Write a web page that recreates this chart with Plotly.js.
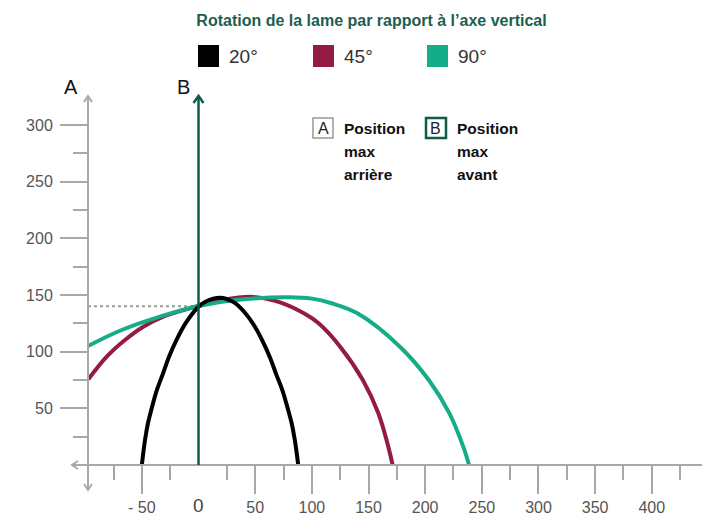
<!DOCTYPE html>
<html><head><meta charset="utf-8">
<script src="https://cdn.plot.ly/plotly-3.0.1.min.js"></script>
<style>html,body{margin:0;padding:0;background:#fff}#chart{width:702px;height:517px}</style>
</head><body><div id="chart"></div>
<script>
// ---- data ----
const seriesNames = ['20°', '45°', '90°'];
const seriesColors = ['#000000', '#941b42', '#14ad88'];
const x20 = [-50, -47.2, -44.6, -41.3, -36.7, -31.6, -26, -19.6, -11.5, 0, 6.1, 19, 30.4, 36, 47.9, 56.2, 62.8, 68.6, 73.9, 78.7, 82.2, 85, 88];
const y20 = [0, 22, 36.8, 50, 66.2, 80, 95.6, 110, 125, 139.7, 144, 147.5, 144, 139.7, 125, 110, 95.6, 80, 66.2, 50, 36.8, 22, 0];
const x45 = [-97.2, -81, -64.9, -48.7, -31, 0, 22, 48, 72, 93, 106, 125, 145, 158.7, 167.5, 171.3];
const y45 = [75.6, 95.6, 110.3, 122, 130.9, 140.3, 145.8, 148.3, 143.5, 133.8, 125, 104.4, 75, 45.6, 16, 0];
const x90 = [-97.5, -67.8, -34, 0, 40, 80, 100, 117.5, 140.2, 177.7, 203.2, 221.4, 233.7, 238.7];
const y90 = [105, 119.1, 130.9, 140.3, 146.2, 148, 146.8, 142.7, 133.8, 104.4, 75, 45.6, 16, 0];
const yTickVals = [50, 100, 150, 200, 250, 300];
const yMinorVals = [25, 75, 125, 175, 225, 275];
const xTickVals = [-50, 50, 100, 150, 200, 250, 300, 350, 400];
const xTickText = ['- 50', '50', '100', '150', '200', '250', '300', '350', '400'];
const xMinorVals = [-75, -25, 25, 75, 125, 175, 225, 275, 325, 375, 425];
const posA = -97.5;   // position max arrière
const posB = 0;       // position max avant
const crossY = 140;   // hauteur au croisement
const chartTitle = 'Rotation de la lame par rapport à l’axe vertical';
const labelA = 'A', labelB = 'B';
const textA = ['Position', 'max', 'arrière'];
const textB = ['Position', 'max', 'avant'];

// ---- geometry ----
const W = 702, H = 517;
const M = {l: 72, r: 0, t: 96, b: 27};
const pw = W - M.l - M.r, ph = H - M.t - M.b;
const scale = 1.1333, x0px = 198.5, y0px = 465;
const xRange = [(M.l - x0px) / scale, (W - M.r - x0px) / scale];
const yRange = [(y0px - (H - M.b)) / scale, (y0px - M.t) / scale];
const fx = px => (px - M.l) / pw;
const fy = py => (H - M.b - py) / ph;

const axisGray = '#a8a8a8';
const narrow = 'Liberation Sans Narrow, Arial Narrow, Liberation Sans, sans-serif';
const tickFont = {family: 'Liberation Sans, Arial, sans-serif', size: 16, color: '#555'};

const xs = [x20, x45, x90], ys = [y20, y45, y90];
const order = [1, 2, 0];
const traces = order.map(i => ({
  type: 'scatter', mode: 'lines', x: xs[i], y: ys[i], name: seriesNames[i],
  line: {color: seriesColors[i], width: 4, shape: 'spline', smoothing: 1},
  showlegend: false, hoverinfo: 'skip'
}));

const shapes = [];
const annotations = [];
shapes.push({type: 'line', xref: 'x', yref: 'y', x0: posA, x1: posB, y0: crossY, y1: crossY,
  line: {color: '#999', width: 2, dash: 'dot'}, layer: 'below'});
shapes.push({type: 'line', xref: 'x', yref: 'paper', x0: posB, x1: posB, y0: (0 - yRange[0]) / (yRange[1] - yRange[0]), y1: 1,
  line: {color: '#0e5c4a', width: 2.5}, layer: 'above'});
function chevron(xref, xa, yref, ya, path, color, w) {
  shapes.push({type: 'path', xref, yref, xsizemode: 'pixel', ysizemode: 'pixel', xanchor: xa, yanchor: ya,
    path, line: {color, width: w}, layer: 'above'});
}
chevron('x', posB, 'paper', 1, 'M-5,-7 L0,0 L5,-7', '#0e5c4a', 2.5);
chevron('x', posA, 'paper', 1, 'M-4,-6 L0,0 L4,-6', axisGray, 2);
chevron('x', posA, 'paper', 0, 'M-4,6 L0,0 L4,6', axisGray, 2);
chevron('paper', 0, 'y', 0, 'M6,-4 L0,0 L6,4', axisGray, 2);

annotations.push({xref: 'paper', yref: 'paper', x: fx(71), y: fy(87), text: labelA, showarrow: false,
  font: {family: narrow, size: 20, color: '#111'}, xanchor: 'center', yanchor: 'middle'});
annotations.push({xref: 'paper', yref: 'paper', x: fx(183), y: fy(87), text: labelB, showarrow: false,
  font: {family: narrow, size: 20, color: '#111'}, xanchor: 'center', yanchor: 'middle'});
annotations.push({xref: 'x', yref: 'paper', x: posB, y: fy(506), text: '0', showarrow: false,
  font: {family: 'Liberation Sans, Arial, sans-serif', size: 19, color: '#444'}, xanchor: 'center', yanchor: 'middle'});

const legX = [198, 313, 427];
seriesNames.forEach((n, i) => {
  shapes.push({type: 'rect', xref: 'paper', yref: 'paper', x0: fx(legX[i]), x1: fx(legX[i] + 21), y0: fy(67), y1: fy(45),
    fillcolor: seriesColors[i], line: {width: 0}});
  annotations.push({xref: 'paper', yref: 'paper', x: fx(legX[i] + 29), y: fy(57), text: n, showarrow: false,
    xanchor: 'left', yanchor: 'middle', font: {family: 'Liberation Sans Narrow, Liberation Sans, sans-serif', size: 19, color: '#333'}});
});

function box(px, letter, lines, color, w) {
  shapes.push({type: 'rect', xref: 'paper', yref: 'paper', x0: fx(px), x1: fx(px + 20), y0: fy(138), y1: fy(118),
    line: {color, width: w}, fillcolor: 'rgba(0,0,0,0)'});
  annotations.push({xref: 'paper', yref: 'paper', x: fx(px + 10), y: fy(128.5), text: letter, showarrow: false,
    xanchor: 'center', yanchor: 'middle', font: {family: 'Liberation Sans, Arial, sans-serif', size: 16, color: '#222'}});
  lines.forEach((t, k) => {
    annotations.push({xref: 'paper', yref: 'paper', x: fx(px + 29), y: fy(128 + k * 23), text: '<b>' + t + '</b>', showarrow: false,
      xanchor: 'left', yanchor: 'middle', font: {family: narrow, size: 15.5, color: '#111'}});
  });
}
box(313, labelA, textA, '#999', 1.5);
box(426, labelB, textB, '#0e5c4a', 2.5);

const layout = {
  width: W, height: H, margin: M, paper_bgcolor: '#fff', plot_bgcolor: '#fff', showlegend: false,
  title: {text: '<b>' + chartTitle + '</b>', x: 371.5 / W, xanchor: 'center', y: 1 - 20 / H, yanchor: 'middle',
    font: {family: narrow, size: 16, color: '#1d5e4f'}},
  xaxis: {range: xRange, anchor: 'free', position: (0 - yRange[0]) / (yRange[1] - yRange[0]),
    showgrid: false, zeroline: false, showline: true, linecolor: axisGray, linewidth: 2,
    tickmode: 'array', tickvals: xTickVals, ticktext: xTickText, ticks: 'outside', ticklen: 28, tickwidth: 2, tickcolor: axisGray,
    minor: {tickmode: 'array', tickvals: xMinorVals, ticks: 'outside', ticklen: 14, tickwidth: 2, tickcolor: axisGray, showgrid: false},
    tickfont: tickFont, fixedrange: true},
  yaxis: {range: yRange, anchor: 'free', position: (posA - xRange[0]) / (xRange[1] - xRange[0]),
    showgrid: false, zeroline: false, showline: true, linecolor: axisGray, linewidth: 2,
    tickmode: 'array', tickvals: yTickVals, ticks: 'outside', ticklen: 27, tickwidth: 2, tickcolor: axisGray,
    ticklabelstandoff: 4,
    minor: {tickmode: 'array', tickvals: yMinorVals, ticks: 'outside', ticklen: 14, tickwidth: 2, tickcolor: axisGray, showgrid: false},
    tickfont: tickFont, fixedrange: true},
  shapes, annotations
};
Plotly.newPlot('chart', traces, layout, {displayModeBar: false, staticPlot: true});
</script>
</body></html>
